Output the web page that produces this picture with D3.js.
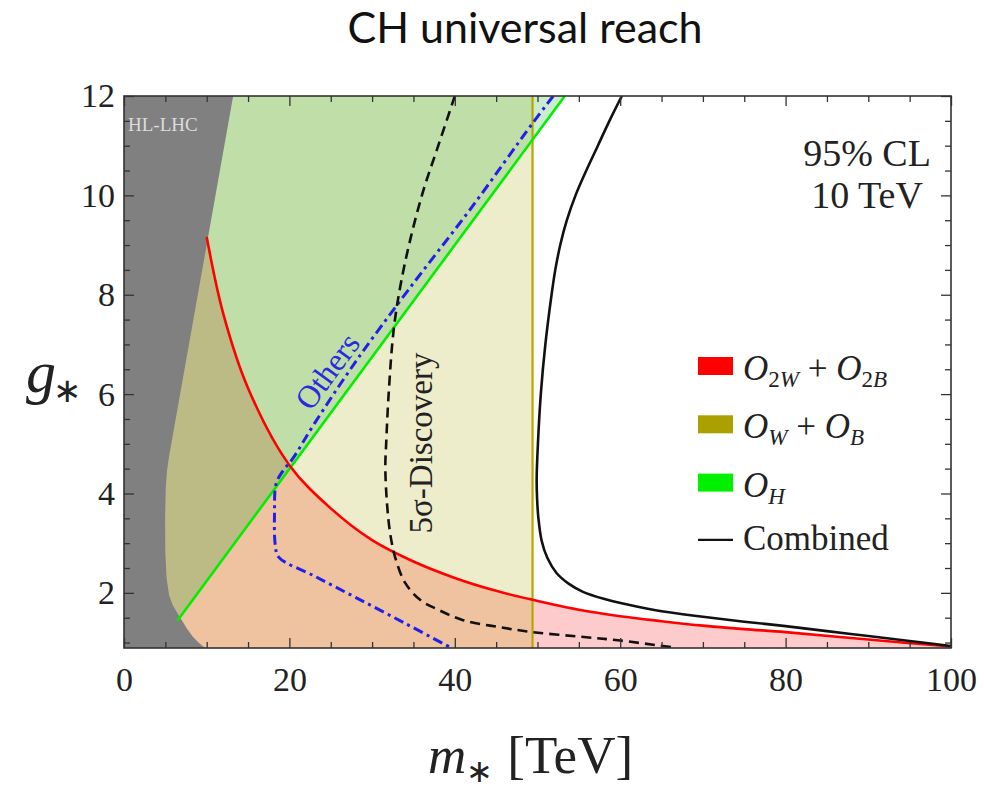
<!DOCTYPE html>
<html>
<head>
<meta charset="utf-8">
<script src="https://cdn.jsdelivr.net/npm/d3@7"></script>
<style>
  body { margin: 0; background: #fff; }
  svg { display: block; }
</style>
</head>
<body>
<script>
// ---- Reach in the (m*, g*) plane, 10 TeV collider, 95% CL ----
const massDomain = [0, 100];
const couplingDomain = [0.89, 12];
const xTickValues = [0, 20, 40, 60, 80, 100];
const yTickValues = [2, 4, 6, 8, 10, 12];

// HL-LHC excluded region (right-hand boundary)
const hlM = [0, 0, 13.2, 5.45, 5.2, 5.05, 4.97, 5.0, 5.15, 5.45, 5.9, 6.5, 7.1, 7.6, 8.3, 9.0, 9.8];
const hlG = [0.89, 12, 12, 4.75, 4.45, 4.1, 3.5, 2.8, 2.3, 1.95, 1.75, 1.58, 1.42, 1.28, 1.12, 1.0, 0.89];

// O_2W + O_2B boundary
const o2wM = [10, 12, 15, 20, 25, 30, 35, 40, 45, 49.4, 55, 60, 65, 70, 75, 80, 90, 100];
const o2wG = [9.16, 7.62, 6.12, 4.57, 3.70, 3.06, 2.63, 2.30, 2.04, 1.86, 1.66, 1.53, 1.43, 1.34, 1.27, 1.21, 1.06, 0.92];

// O_W + O_B reach (vertical limit in m*)
const owLimit = 49.4;

// O_H boundary (straight line)
const ohM = [6.45, 53.3];
const ohG = [1.44, 12];

// "Others" contour
const othersM = [51.9, 49.4, 42, 34.4, 28, 23, 20.4, 19.2, 18.4, 18.2, 18.3, 18.7, 23, 28.1, 34, 39.6];
const othersG = [12, 11.45, 9.75, 8.1, 6.65, 5.4, 4.7, 4.45, 4.2, 3.6, 2.95, 2.72, 2.34, 1.90, 1.385, 0.89];

// Combined reach
const combM = [60.2, 58.7, 57.3, 55.9, 54.6, 53.55, 52.75, 52.15, 51.7, 50.95, 50.4, 50.05, 49.9, 49.95, 50.1, 50.5, 51.2, 52.3, 53.8, 55.5, 58, 61, 65, 70, 75, 80, 85, 90, 95, 100];
const combG = [12, 11.5, 11.0, 10.5, 10.0, 9.5, 9.0, 8.5, 8.0, 7.0, 6.0, 5.0, 4.3, 3.9, 3.52, 3.05, 2.7, 2.4, 2.18, 2.02, 1.88, 1.76, 1.63, 1.52, 1.42, 1.33, 1.23, 1.13, 1.03, 0.93];

// 5 sigma discovery contour
const discM = [40, 38, 36.2, 34.6, 33.4, 32.6, 32.0, 31.7, 31.6, 31.8, 32.2, 32.8, 34.0, 35.8, 38, 41, 45, 49.4, 55, 60, 66.5];
const discG = [12, 11, 10.1, 9.1, 8.16, 7.28, 6.0, 5.0, 4.53, 3.8, 3.18, 2.71, 2.2, 1.86, 1.66, 1.45, 1.32, 1.21, 1.12, 1.04, 0.9];

const W = 984, H = 791;
const P = { left: 124, right: 951, top: 96, bottom: 648 };

const x = d3.scaleLinear().domain(massDomain).range([P.left, P.right]);
const y = d3.scaleLinear().domain(couplingDomain).range([P.bottom, P.top]);

const zip = (ms, gs) => ms.map((m, i) => [m, gs[i]]);
const smooth = d3.line().x(d => x(d[0])).y(d => y(d[1])).curve(d3.curveCatmullRom.alpha(0.5));
const straight = d3.line().x(d => x(d[0])).y(d => y(d[1]));

const svg = d3.select("body").append("svg").attr("width", W).attr("height", H);
const defs = svg.append("defs");

defs.append("clipPath").attr("id", "plotClip").append("rect")
  .attr("x", P.left).attr("y", P.top)
  .attr("width", P.right - P.left).attr("height", P.bottom - P.top);

defs.append("clipPath").attr("id", "owClip").append("rect")
  .attr("x", x(0)).attr("y", P.top)
  .attr("width", x(owLimit) - x(0)).attr("height", P.bottom - P.top);

// O_H region: above / left of its line
const ohPoly = [[0, 12], [ohM[1], ohG[1]], [ohM[0], ohG[0]], [0, ohG[0]]];
defs.append("clipPath").attr("id", "ohClip").append("path").attr("d", straight(ohPoly) + "Z");

// O_2W region: below its curve
const o2wPts = zip(o2wM, o2wG);
const o2wArea = smooth(o2wPts) + "L" + x(100) + "," + y(0.89) + "L" + x(0) + "," + y(0.89) +
  "L" + x(0) + "," + y(o2wG[0]) + "Z";

const plot = svg.append("g").attr("clip-path", "url(#plotClip)");

// olive region alone
plot.append("rect").attr("x", x(0)).attr("y", P.top)
  .attr("width", x(owLimit) - x(0)).attr("height", P.bottom - P.top).attr("fill", "#eeedcb");
// O_H alone
plot.append("path").attr("d", straight(ohPoly) + "Z").attr("fill", "#cbeccd");
// O_H with O_W
plot.append("g").attr("clip-path", "url(#owClip)")
  .append("path").attr("d", straight(ohPoly) + "Z").attr("fill", "#c0dfa8");
// O_2W alone
plot.append("path").attr("d", o2wArea).attr("fill", "#fdcbcb");
// O_2W with O_W
plot.append("g").attr("clip-path", "url(#owClip)")
  .append("path").attr("d", o2wArea).attr("fill", "#efc3a0");
// all three
plot.append("g").attr("clip-path", "url(#owClip)")
  .append("g").attr("clip-path", "url(#ohClip)")
  .append("path").attr("d", o2wArea).attr("fill", "#bdbb85");

// HL-LHC
plot.append("path").attr("d", straight(zip(hlM, hlG)) + "Z").attr("fill", "#808080");

// boundary lines
plot.append("line")
  .attr("x1", x(owLimit)).attr("x2", x(owLimit)).attr("y1", P.bottom).attr("y2", P.top)
  .attr("stroke", "#b4a800").attr("stroke-width", 2.2);
plot.append("path").attr("d", straight(zip(ohM, ohG)))
  .attr("fill", "none").attr("stroke", "#00ee00").attr("stroke-width", 2.6);
plot.append("path").attr("d", smooth(o2wPts))
  .attr("fill", "none").attr("stroke", "#ff0000").attr("stroke-width", 2.6);
plot.append("path").attr("d", smooth(zip(othersM, othersG)))
  .attr("fill", "none").attr("stroke", "#2020e8").attr("stroke-width", 3)
  .attr("stroke-dasharray", "10,4.5,3,4.5");
plot.append("path").attr("d", smooth(zip(discM, discG)))
  .attr("fill", "none").attr("stroke", "#111").attr("stroke-width", 2.6)
  .attr("stroke-dasharray", "10,6");
plot.append("path").attr("d", smooth(zip(combM, combG)))
  .attr("fill", "none").attr("stroke", "#111").attr("stroke-width", 2.6);

// ---- axes: ticks on all four sides, pointing inward ----
const serif = "'Liberation Serif', 'Times New Roman', serif";
const minorX = d3.range(0, 101, 5).filter(v => v % 20 !== 0);
const minorY = d3.range(1, 12.01, 0.5).filter(v => v % 2 !== 0);

function styleAxis(g) {
  g.select(".domain").remove();
  g.selectAll(".tick line").attr("stroke", "#333").attr("stroke-width", 1.3);
  g.selectAll(".tick text").attr("font-family", serif).attr("font-size", 34).attr("fill", "#222");
}

svg.append("g").attr("transform", `translate(0,${P.bottom})`)
  .call(d3.axisBottom(x).tickValues(xTickValues).tickSize(-10).tickPadding(19).tickFormat(d3.format("d")))
  .call(styleAxis);
svg.append("g").attr("transform", `translate(0,${P.bottom})`)
  .call(d3.axisBottom(x).tickValues(minorX).tickSize(-6).tickFormat(""))
  .call(styleAxis);
svg.append("g").attr("transform", `translate(0,${P.top})`)
  .call(d3.axisTop(x).tickValues(xTickValues).tickSize(-10).tickFormat(""))
  .call(styleAxis);
svg.append("g").attr("transform", `translate(0,${P.top})`)
  .call(d3.axisTop(x).tickValues(minorX).tickSize(-6).tickFormat(""))
  .call(styleAxis);

svg.append("g").attr("transform", `translate(${P.left},0)`)
  .call(d3.axisLeft(y).tickValues(yTickValues).tickSize(-10).tickPadding(9).tickFormat(d3.format("d")))
  .call(styleAxis);
svg.append("g").attr("transform", `translate(${P.left},0)`)
  .call(d3.axisLeft(y).tickValues(minorY).tickSize(-6).tickFormat(""))
  .call(styleAxis);
svg.append("g").attr("transform", `translate(${P.right},0)`)
  .call(d3.axisRight(y).tickValues(yTickValues).tickSize(-10).tickFormat(""))
  .call(styleAxis);
svg.append("g").attr("transform", `translate(${P.right},0)`)
  .call(d3.axisRight(y).tickValues(minorY).tickSize(-6).tickFormat(""))
  .call(styleAxis);

svg.append("rect").attr("x", P.left).attr("y", P.top)
  .attr("width", P.right - P.left).attr("height", P.bottom - P.top)
  .attr("fill", "none").attr("stroke", "#333").attr("stroke-width", 1.6);

// ---- text ----
svg.append("text").attr("x", 525).attr("y", 43).attr("text-anchor", "middle")
  .attr("font-family", "Lato, 'Open Sans', sans-serif").attr("font-size", 43).attr("fill", "#111")
  .text("CH universal reach");

svg.append("text").attr("x", 128).attr("y", 131)
  .attr("font-family", serif).attr("font-size", 19).attr("fill", "#dcdcdc").text("HL-LHC");

svg.append("text").attr("x", 867).attr("y", 166).attr("text-anchor", "middle")
  .attr("font-family", serif).attr("font-size", 38).attr("fill", "#222").text("95% CL");
svg.append("text").attr("x", 867).attr("y", 208).attr("text-anchor", "middle")
  .attr("font-family", serif).attr("font-size", 38).attr("fill", "#222").text("10 TeV");

svg.append("text").attr("transform", "translate(327,371) rotate(-53.5)")
  .attr("text-anchor", "middle").attr("dy", "0.35em")
  .attr("font-family", serif).attr("font-size", 32).attr("fill", "#2a2ae0").text("Others");

svg.append("text").attr("transform", "translate(432,443) rotate(-90)")
  .attr("text-anchor", "middle")
  .attr("font-family", serif).attr("font-size", 33).attr("fill", "#222")
  .text("5σ-Discovery");

// axis titles
const gLab = svg.append("text").attr("x", 26).attr("y", 392)
  .attr("font-family", serif).attr("font-size", 60).attr("fill", "#222");
gLab.append("tspan").attr("font-style", "italic").text("g");
gLab.append("tspan").attr("font-size", 34).attr("dy", 10).attr("dx", -3).text("∗");

const mLab = svg.append("text").attr("x", 428).attr("y", 773)
  .attr("font-family", serif).attr("font-size", 53).attr("fill", "#222");
mLab.append("tspan").attr("font-style", "italic").text("m");
mLab.append("tspan").attr("font-size", 32).attr("dy", 9).text("∗");
mLab.append("tspan").attr("dy", -9).attr("dx", 14).text("[TeV]");

// ---- legend ----
const legendItems = [
  { color: "#ff0000", parts: [["O", 0, true], ["2", 1, false], ["W", 1, true], [" + ", 0, false], ["O", 0, true], ["2", 1, false], ["B", 1, true]] },
  { color: "#aaa000", parts: [["O", 0, true], ["W", 1, true], [" + ", 0, false], ["O", 0, true], ["B", 1, true]] },
  { color: "#00f000", parts: [["O", 0, true], ["H", 1, true]] },
  { line: true, parts: [["Combined", 0, false]] }
];
const lg = svg.append("g");
legendItems.forEach((it, i) => {
  const cy = 366 + i * 58.3;
  if (it.line) {
    lg.append("line").attr("x1", 698).attr("x2", 733).attr("y1", cy - 1).attr("y2", cy - 1)
      .attr("stroke", "#111").attr("stroke-width", 2.2);
  } else {
    lg.append("rect").attr("x", 698).attr("y", cy - 9).attr("width", 35).attr("height", 18).attr("fill", it.color);
  }
  const t = lg.append("text").attr("x", 743).attr("y", it.line ? cy + 9 : cy + 14)
    .attr("font-family", serif).attr("font-size", 35).attr("fill", "#222");
  let level = 0;
  it.parts.forEach(([s, sub, ital]) => {
    const ts = t.append("tspan").text(s);
    if (ital) ts.attr("font-style", "italic");
    if (sub) ts.attr("font-size", 23);
    if (sub !== level) { ts.attr("dy", sub ? 7 : -7); level = sub; }
  });
});
</script>
</body>
</html>
